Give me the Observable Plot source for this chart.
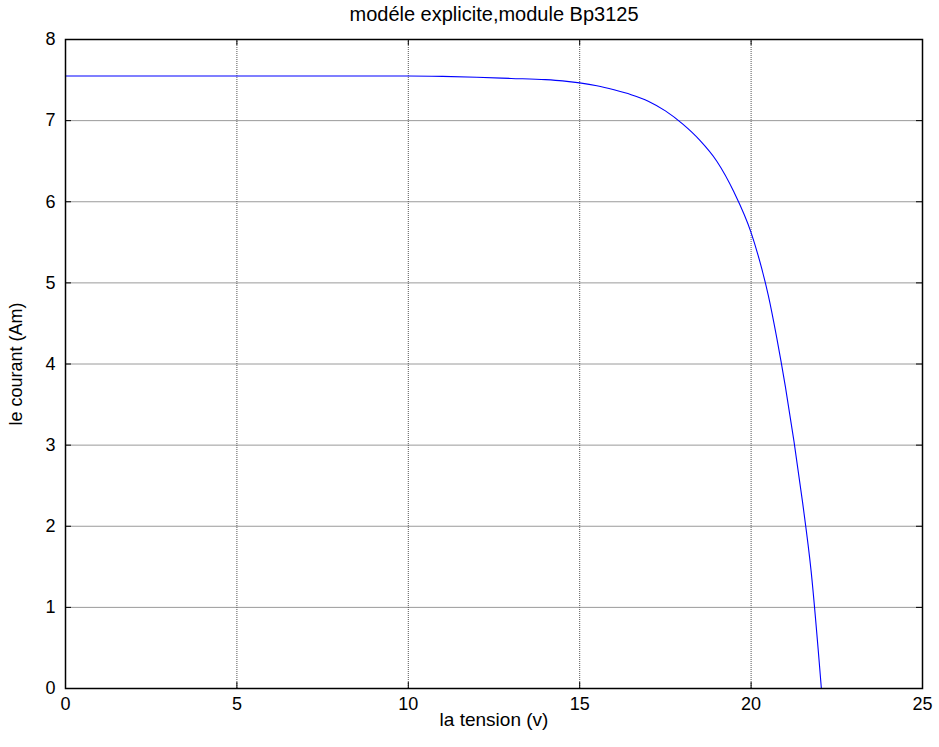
<!DOCTYPE html>
<html>
<head>
<meta charset="utf-8">
<script src="https://cdn.jsdelivr.net/npm/d3@7"></script>
<script src="https://cdn.jsdelivr.net/npm/@observablehq/plot@0.6"></script>
<style>
  html, body { margin: 0; padding: 0; background: #fff; }
</style>
</head>
<body>
<div id="chart"></div>
<script>
const titleText = "modéle explicite,module Bp3125";
const xLabel = "la tension (v)";
const yLabel = "le courant (Am)";
const xTicks = [0, 5, 10, 15, 20, 25];
const yTicks = [0, 1, 2, 3, 4, 5, 6, 7, 8];

const tension = [0, 5, 10, 11, 12, 13, 14, 14.5, 15, 15.5, 16, 16.5, 17, 17.5, 18, 18.5, 19, 19.5, 20, 20.25, 20.5, 20.75, 21, 21.25, 21.5, 21.75, 22.05];
const courant = [7.55, 7.55, 7.55, 7.545, 7.535, 7.52, 7.505, 7.49, 7.465, 7.43, 7.38, 7.32, 7.24, 7.12, 6.96, 6.76, 6.5, 6.12, 5.62, 5.27, 4.85, 4.32, 3.72, 3.05, 2.3, 1.45, 0];

const data = tension.map((v, i) => ({v, i: courant[i]}));

const W = 939, H = 747;
const mL = 65, mR = 17, mT = 39, mB = 59;
const fw = W - mL - mR, fh = H - mT - mB;
const tick = 6;
const font = "Liberation Sans, Arial, Helvetica, sans-serif";

const chart = Plot.plot({
  width: W,
  height: H,
  marginLeft: mL, marginRight: mR, marginTop: mT, marginBottom: mB,
  style: {fontFamily: font, fontSize: "17px", color: "#000", background: "#fff"},
  x: {domain: [0, 25]},
  y: {domain: [0, 8]},
  marks: [
    Plot.ruleY(yTicks.slice(1, -1), {y: d => d, stroke: "#9a9a9a", strokeWidth: 1}),
    Plot.ruleX(xTicks.slice(1, -1), {x: d => d, stroke: "#555", strokeWidth: 1, strokeDasharray: "1,1"}),
    Plot.tickX(xTicks, {x: d => d, insetTop: fh - tick, stroke: "#000"}),
    Plot.tickX(xTicks, {x: d => d, insetBottom: fh - tick, stroke: "#000"}),
    Plot.tickY(yTicks, {y: d => d, insetRight: fw - tick, stroke: "#000"}),
    Plot.tickY(yTicks, {y: d => d, insetLeft: fw - tick, stroke: "#000"}),
    Plot.line(data, {x: "v", y: "i", stroke: "#0000ff", strokeWidth: 1.1, curve: "monotone-x"}),
    Plot.frame({stroke: "#000", strokeWidth: 1.5}),
    Plot.axisX({ticks: xTicks, tickSize: 0, tickPadding: 9, fontSize: 18, label: null}),
    Plot.axisY({ticks: yTicks, tickSize: 0, tickPadding: 10, fontSize: 18, label: yLabel, labelAnchor: "center", labelArrow: "none", labelOffset: 56}),
    Plot.text([xLabel], {frameAnchor: "bottom", dy: 37, fontSize: 19, fill: "#000"}),
    Plot.text([titleText], {frameAnchor: "top", dy: -33, fontSize: 20, fill: "#000"})
  ]
});
document.getElementById("chart").appendChild(chart);
</script>
</body>
</html>
